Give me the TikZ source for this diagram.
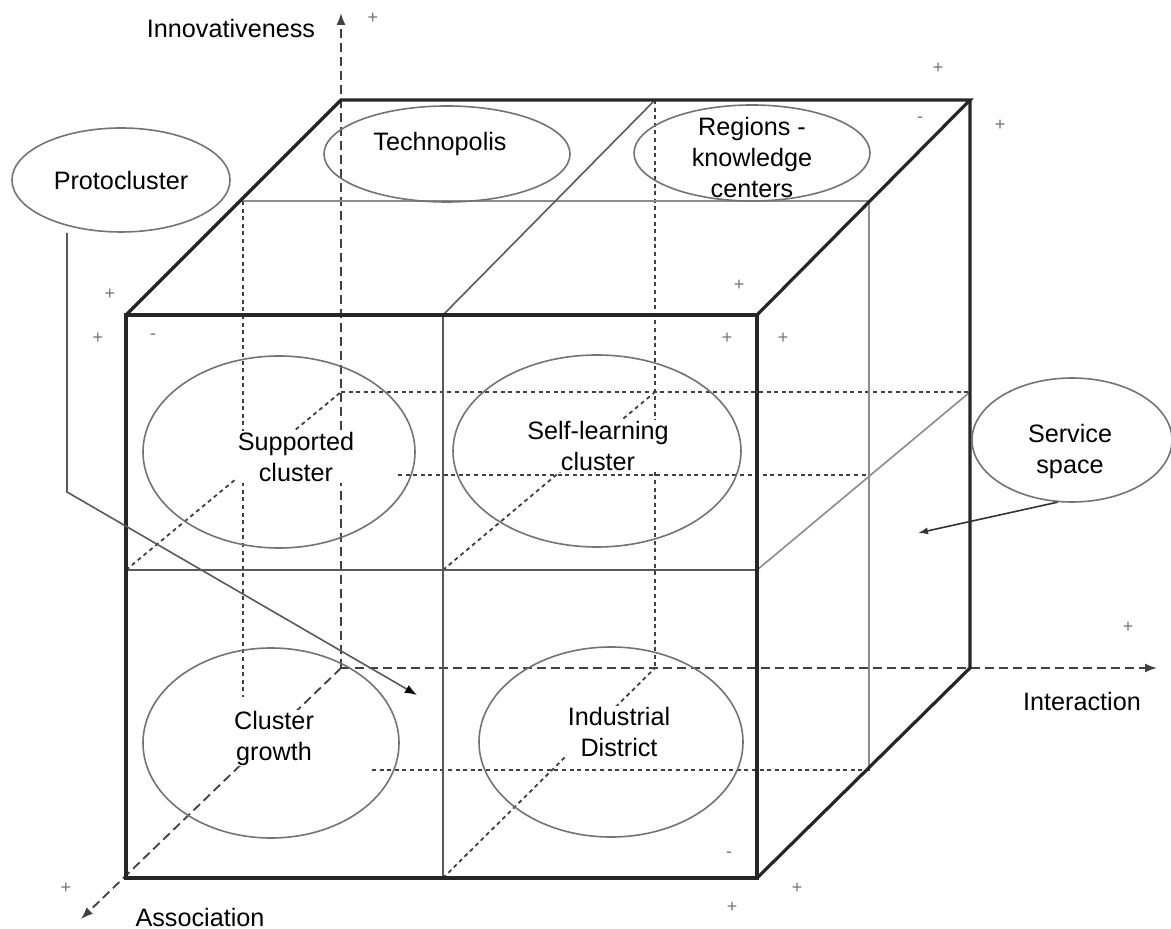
\documentclass[tikz,border=0pt]{standalone}
\usepackage{fontspec}
\setmainfont{Liberation Sans}
\usetikzlibrary{arrows.meta,shapes.geometric}

\tikzset{
  edge/.style={line width=1.6pt, color=black!85},
  inner/.style={line width=0.8pt, color=black!65},
  plane/.style={line width=0.8pt, color=black!45},
  hidden/.style={line width=0.9pt, color=black!75, dash pattern=on 2pt off 1.8pt},
  axis/.style={line width=0.9pt, color=black!75, dash pattern=on 4.5pt off 2.5pt},
  blob/.style={ellipse, draw=black!55, line width=0.8pt, inner sep=0pt},
  lbl/.style={fill=white, inner sep=0.5pt, align=center, font=\fontsize{12.6}{15.5}\selectfont},
  plusmark/.style={inner sep=0pt, color=black!55, font=\fontsize{9}{9}\selectfont},
  conn/.style={line width=0.8pt, color=black!65},
}

\begin{document}
\begin{tikzpicture}[x=0.5pt, y=-0.5pt]
			%%%%% START %%%%%
			\useasboundingbox (0,0) rectangle (1171,929);
			
			% hidden edges of the cube
			\draw[hidden] (243,201) -- (243,697);
			\draw[hidden] (655,100) -- (655,668);
			\draw[hidden] (341,392) -- (970,392);
			\draw[hidden] (398,475) -- (870,475);
			\draw[hidden] (372,770) -- (870,770);
			\draw[hidden] (126,570) -- (341,392);
			\draw[hidden] (443,570) -- (655,392);
			\draw[hidden] (443,878) -- (655,668);
			
			% axes
			\coordinate (orig) at (341,668);
			\coordinate (itop) at (341,13);
			\coordinate (iend) at (1157,668);
			\coordinate (aend) at (81,919);
			\draw[axis, -{Latex[length=6pt,width=4.5pt]}] (orig) -- (itop);
			\draw[axis, -{Latex[length=6pt,width=4.5pt]}] (orig) -- (iend);
			\draw[axis, -{Latex[length=6pt,width=4.5pt]}] (orig) -- (aend);
			
			% middle plane
			\draw[plane] (243,201) -- (869,201) -- (869,768);
			
			% cube
			\draw[inner] (443,315) -- (443,878);
			\draw[inner] (126,570) -- (757,570);
			\draw[inner] (443,315) -- (655,100);
			\draw[plane] (757,570) -- (970,392);
			\draw[edge] (126,315) rectangle (757,878);
			\draw[edge] (126,315) -- (341,100) -- (970,100) -- (757,315);
			\draw[edge] (970,100) -- (970,668) -- (757,878);
			
			% types of clusters
			\node[blob, minimum width=109pt, minimum height=52pt] (proto) at (121,180) {};
			\node[lbl] (protot) at (proto) {Protocluster};
			\node[blob, minimum width=123pt, minimum height=48pt] (techno) at (447,154) {};
			\node[lbl] (technot) at (440,144) {Technopolis};
			\node[blob, minimum width=118pt, minimum height=48pt] (regions) at (752,153) {};
			\node[lbl, fill=none] (regionst) at (752,157) {Regions -\\knowledge\\centers};
			\node[blob, minimum width=136pt, minimum height=96pt] (supp) at (279,452) {};
			\node[lbl] (suppt) at (296,457) {Supported\\cluster};
			\node[blob, minimum width=144pt, minimum height=96pt] (selfl) at (597,451) {};
			\node[lbl] (selflt) at (598,446) {Self-learning\\cluster};
			\node[blob, minimum width=128pt, minimum height=95pt] (growth) at (271,743) {};
			\node[lbl] (growtht) at (274,738) {Cluster\\growth};
			\node[blob, minimum width=132pt, minimum height=95pt] (indus) at (611,742) {};
			\node[lbl] (indust) at (619,732) {Industrial\\District};
			\node[blob, minimum width=100pt, minimum height=62pt] (serv) at (1072,440) {};
			\node[lbl] (servt) at (1070,451) {Service\\space};
			
			% axis names
			\node[lbl] (innov) at (231,29) {Innovativeness};
			\node[lbl] (inter) at (1082,701) {Interaction};
			\node[lbl] (assoc) at (200,917) {Association};
			
			% pointers
			\coordinate (pbend) at (67,492);
			\coordinate (ptip) at (417,695);
			\draw[conn, -{Latex[length=6pt,width=4.5pt,black]}] (pbend |- proto.south) -- (pbend) -- (ptip);
			\coordinate (stip) at (918,533);
			\draw[conn, color=black!80, -{Latex[length=5pt,width=3.5pt]}] (serv.257) -- (stip);
			
			% small marks
			\node[plusmark] (m1) at (373,18) {+};
			\node[plusmark] (m2) at (938,68) {+};
			\node[plusmark] (m3) at (920,120) {-};
			\node[plusmark] (m4) at (1000,125) {+};
			\node[plusmark] (m5) at (110,294) {+};
			\node[plusmark] (m6) at (98,338) {+};
			\node[plusmark] (m7) at (153,337) {-};
			\node[plusmark] (m8) at (739,285) {+};
			\node[plusmark] (m9) at (727,338) {+};
			\node[plusmark] (m10) at (783,338) {+};
			\node[plusmark] (m11) at (1128,627) {+};
			\node[plusmark] (m12) at (66,888) {+};
			\node[plusmark] (m13) at (729,855) {-};
			\node[plusmark] (m14) at (732,907) {+};
			\node[plusmark] (m15) at (797,888) {+};
			
			%%%%% END %%%%%
\end{tikzpicture}
\end{document}
